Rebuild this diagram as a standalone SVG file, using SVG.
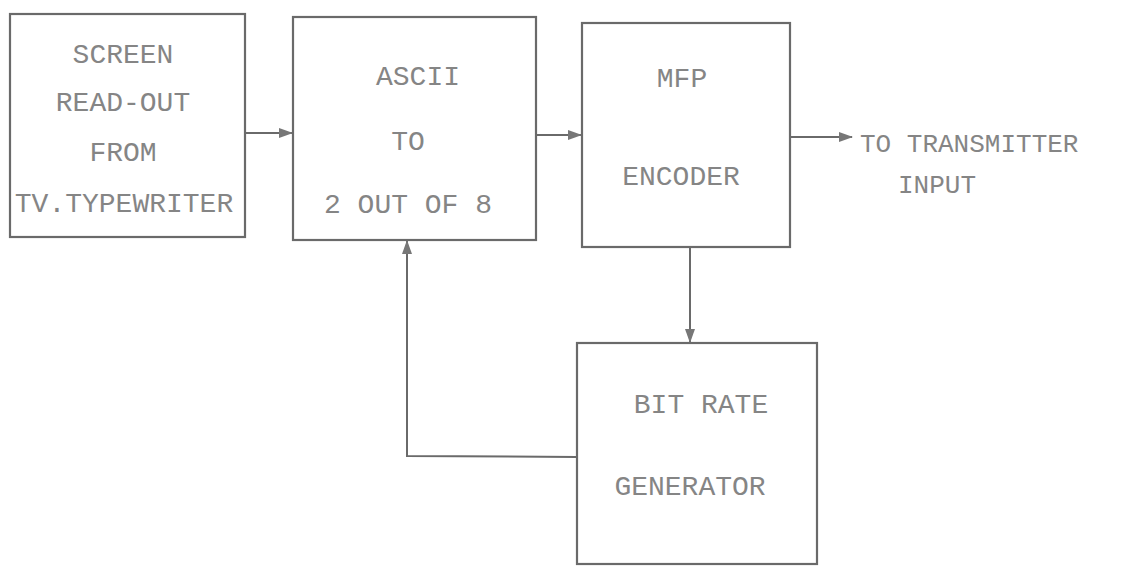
<svg xmlns="http://www.w3.org/2000/svg" width="1146" height="566" viewBox="0 0 1146 566">
<style>
.box{fill:none;stroke:#6a6a6a;stroke-width:2.2}
.t{font-family:"Liberation Mono","Courier New",monospace;font-size:28px;fill:#858585;text-anchor:middle}
.c{fill:none;stroke:#6a6a6a;stroke-width:2}
</style>
<defs>
<marker id="ah" markerWidth="14" markerHeight="12" refX="13" refY="6" orient="auto" markerUnits="userSpaceOnUse">
<path d="M0,1 L14,6 L0,11 Z" fill="#777"/>
</marker>
</defs>
<rect width="1146" height="566" fill="#ffffff"/>
<g id="n1">
<rect class="box" x="10" y="14" width="235" height="223"/>
<text class="t" x="123" y="63">SCREEN</text>
<text class="t" x="123" y="111">READ-OUT</text>
<text class="t" x="123" y="161">FROM</text>
<text class="t" x="124" y="212">TV.TYPEWRITER</text>
</g>
<g id="n2">
<rect class="box" x="293" y="17" width="243" height="223"/>
<text class="t" x="418" y="85">ASCII</text>
<text class="t" x="408" y="150">TO</text>
<text class="t" x="408" y="213">2 OUT OF 8</text>
</g>
<g id="n3">
<rect class="box" x="582" y="23" width="208" height="224"/>
<text class="t" x="682" y="87">MFP</text>
<text class="t" x="681" y="185">ENCODER</text>
</g>
<g id="n4">
<rect class="box" x="577" y="343" width="240" height="221"/>
<text class="t" x="701" y="413">BIT RATE</text>
<text class="t" x="690" y="495">GENERATOR</text>
</g>
<g id="n5">
<text class="t" x="860" y="152" style="text-anchor:start;font-size:26px">TO TRANSMITTER</text>
<text class="t" x="937" y="193" style="font-size:26px">INPUT</text>
</g>
<g id="connectors">
<line class="c" x1="245" y1="133" x2="292" y2="133" marker-end="url(#ah)"/>
<line class="c" x1="536" y1="135" x2="581" y2="135" marker-end="url(#ah)"/>
<line class="c" x1="790" y1="137" x2="852" y2="137" marker-end="url(#ah)"/>
<line class="c" x1="690" y1="247" x2="690" y2="342" marker-end="url(#ah)"/>
<polyline class="c" points="577,457 407,456 407,241" marker-end="url(#ah)"/>
</g>
</svg>
